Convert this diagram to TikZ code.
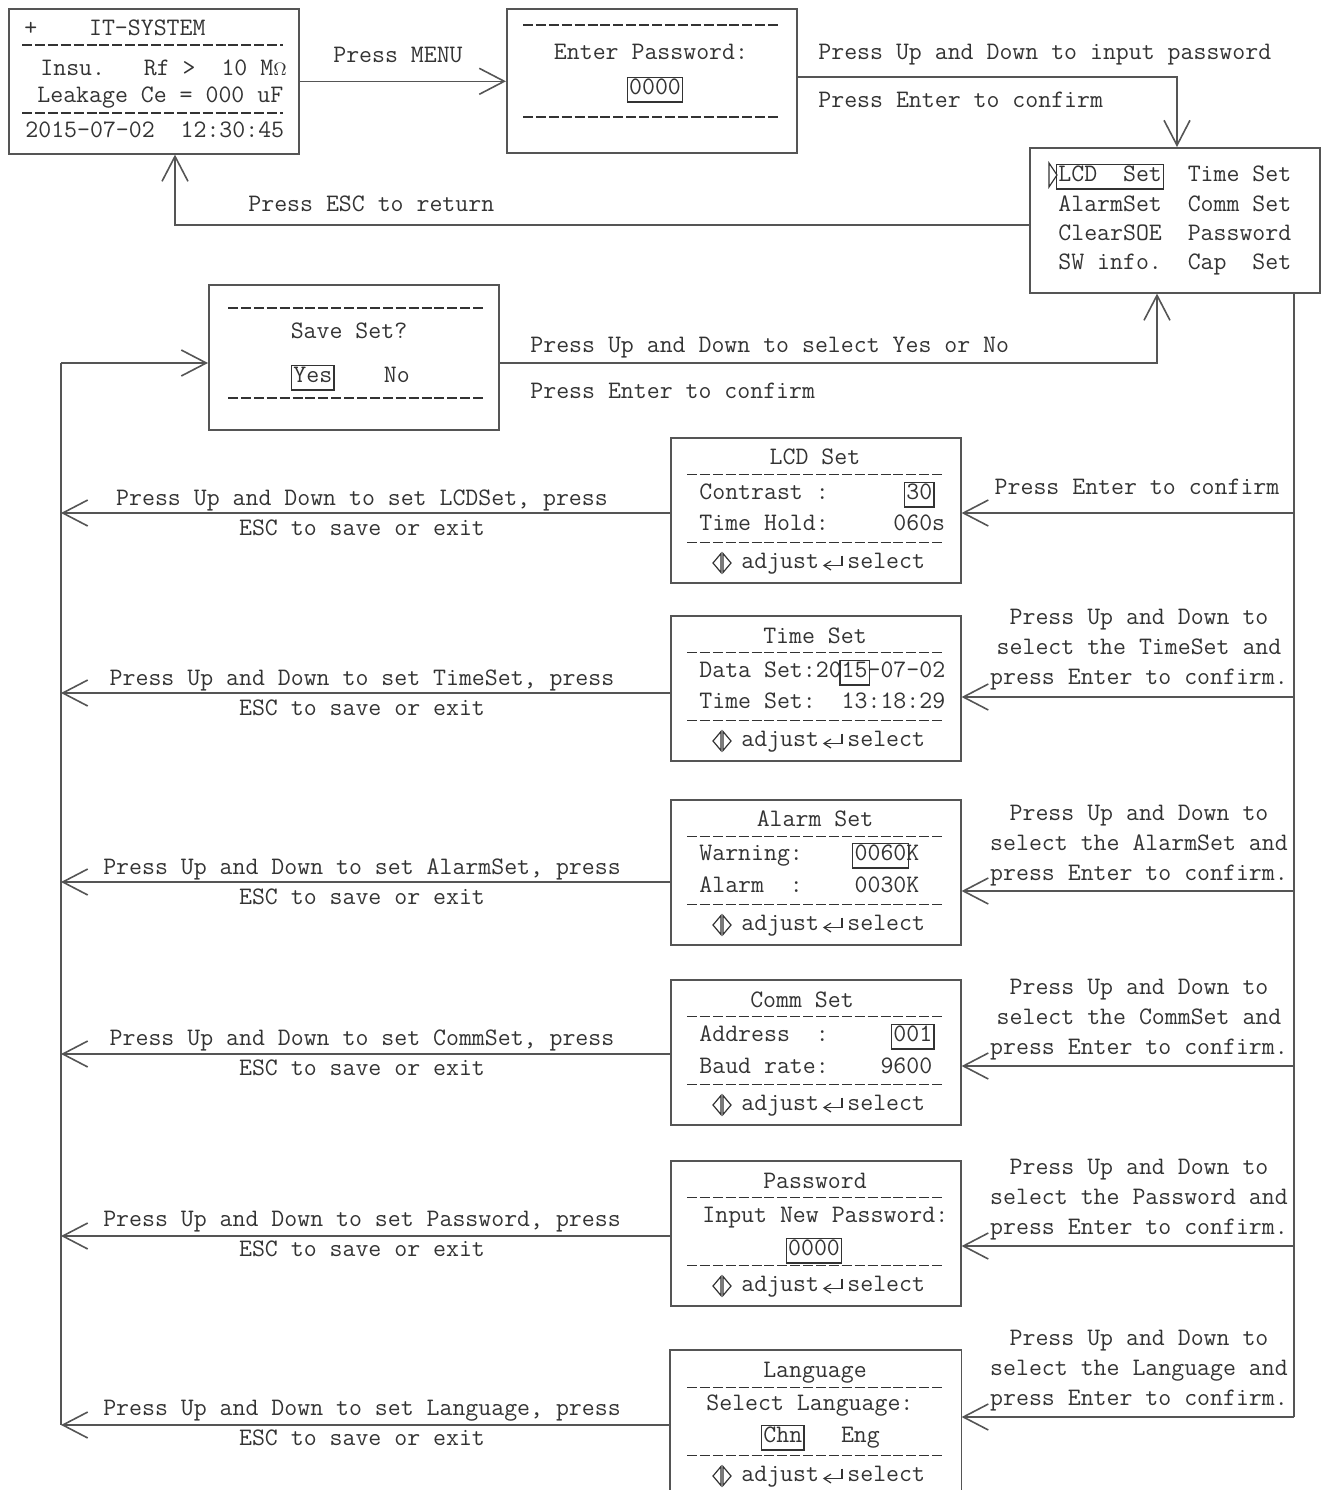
\documentclass[tikz,border=0pt]{standalone}
\usepackage{fontspec}
\usetikzlibrary{arrows.meta}
\definecolor{textc}{HTML}{333333}
\definecolor{linec}{HTML}{555555}
\newcommand\lcdf{\ttfamily\fontsize{12.56}{14}\selectfont}
\newcommand\bx[1]{{\setlength\fboxsep{0.6pt}\setlength\fboxrule{0.55pt}\kern-1.15pt\fbox{\vphantom{Ag}#1}\kern-1.15pt}}
\newcommand\ohm{{\fontsize{9}{9}\selectfont$\Omega$}}
\tikzset{
  txt/.style={font=\lcdf, text=textc, inner sep=0pt, text height=7.5pt, text depth=0pt},
  lt/.style={txt, anchor=west},
  scr/.style={draw=linec, line width=0.8pt, minimum width=145pt, inner sep=0pt, anchor=north west},
  dsh/.style={draw=textc, line width=0.6pt, dash pattern=on 5pt off 1.45pt},
  conn/.style={draw=linec, line width=0.8pt},
  arr/.style={conn, -{Straight Barb[length=12.5pt, width=13pt]}},
  sym/.style={draw=textc, line width=0.6pt},
  footer/.pic={
    \draw[sym] (43,2.5) -- (51,-7) -- (51,12) -- cycle;
    \draw[sym] (61,2.5) -- (53,-7) -- (53,12) -- cycle;
    \node[lt] (-a) at (71,0) {adjust};
    \draw[sym] (172,-5) -- (172,5) -- (154,5);
    \draw[sym] (161,0.5) -- (154,5) -- (161,9.5);
    \node[lt] (-s) at (177,0) {select};
  }
}
\begin{document}
\begin{tikzpicture}[x=0.5pt,y=-0.5pt]
\useasboundingbox (0,0) rectangle (1325,1490);

% ---------- top boxes ----------
\node[scr, minimum height=72.5pt] (main) at (8,8) {};
\draw[dsh] (22,45) -- (283,45);
\draw[dsh] (22,113) -- (283,113);
\node[lt] (m1) at (24,28) {+\ \ \ \ IT-SYSTEM};
\node[lt] (m2) at (40,68) {Insu.\ \ \ Rf\ >\ \ 10\ M\ohm};
\node[lt] (m3) at (37,95) {Leakage\ Ce\ =\ 000\ uF};
\node[lt] (m4) at (25,130) {2015-07-02\ \ 12:30:45};

\node[scr, minimum height=72pt] (pwd) at (506,8) {};
\draw[dsh] (523,25) -- (779,25);
\draw[dsh] (523,117) -- (779,117);
\node[txt] (p1) at (651,52) {Enter Password:};
\node[txt] (p2) at (655,87) {\bx{0000}};

\node[scr, minimum height=72.5pt] (menu) at (1029,147) {};
\draw[sym] (1049,163) -- (1057,175) -- (1049,187) -- cycle;
\node[lt] (mn1) at (1058,174) {\bx{LCD\ \ Set}\ \ Time\ Set};
\node[lt] (mn2) at (1058,204) {AlarmSet\ \ Comm\ Set};
\node[lt] (mn3) at (1058,233) {ClearSOE\ \ Password};
\node[lt] (mn4) at (1058,262) {SW\ info.\ \ Cap\ \ Set};

\node[scr, minimum height=72.5pt] (save) at (208,284) {};
\draw[dsh] (228,308) -- (485,308);
\draw[dsh] (228,398) -- (485,398);
\node[txt] (s1) at (349,331) {Save Set?};
\node[lt] (s2) at (293,375) {\bx{Yes}\ \ \ \ No};

% ---------- top connectors ----------
\draw[arr] (main.east) -- (main.east -| pwd.west);
\node[txt] (lmenu) at (398,55) {Press MENU};

\coordinate (c1) at (1177,77);
\draw[arr] (pwd.east |- c1) -- (c1) -- (c1 |- menu.north);
\node[lt] (lp1) at (818,52) {Press Up and Down to input password};
\node[lt] (lp2) at (818,100) {Press Enter to confirm};

\coordinate (c2) at (175,225);
\draw[arr] (menu.west |- c2) -- (c2) -- (c2 |- main.south);
\node[lt] (lesc) at (248,204) {Press ESC to return};

\coordinate (c3) at (1157,363);
\draw[arr] (save.east |- c3) -- (c3) -- (c3 |- menu.south);
\node[lt] (ls1) at (530,345) {Press Up and Down to select Yes or No};
\node[lt] (ls2) at (530,391) {Press Enter to confirm};

% ---------- setting screens ----------
\foreach \n/\t in {lcd/437, time/615, alarm/799, comm/979, pass/1160} {
  \node[scr, minimum height=72.5pt] (\n) at (670,\t) {};
}
\node[scr, draw=none, minimum height=70pt] (lang) at (670,1350) {};
\draw[conn] (lang.south west) -- (lang.north west) -- (lang.north east) -- (lang.south east);

\foreach \t in {437,615,799,979,1160,1350} {
  \draw[dsh] (687,\t+37.7) -- (944,\t+37.7);
  \draw[dsh] (687,\t+105.3) -- (944,\t+105.3);
  \pic (ft\t) at (670,\t+123.5) {footer};
}

\node[txt] (lcdT) at (815,457) {LCD Set};
\node[lt] (lcd1) at (699,492) {Contrast\ :\ \ \ \ \ \ \bx{30}};
\node[lt] (lcd2) at (699,523) {Time\ Hold:\ \ \ \ \ 060s};

\node[txt] (timeT) at (815,636) {Time Set};
\node[lt] (time1) at (699,670) {Data\ Set:20\bx{15}-07-02};
\node[lt] (time2) at (699,701) {Time\ Set:\ \ 13:18:29};

\node[txt] (alarmT) at (815,819) {Alarm Set};
\node[lt] (alarm1) at (699,853) {Warning:\ \ \ \ \bx{0060}K};
\node[lt] (alarm2) at (699,885) {Alarm\ \ :\ \ \ \ 0030K};

\node[txt] (commT) at (802,1000) {Comm Set};
\node[lt] (comm1) at (699,1034) {Address\ \ :\ \ \ \ \ \bx{001}};
\node[lt] (comm2) at (699,1066) {Baud\ rate:\ \ \ \ 9600};

\node[txt] (passT) at (815,1181) {Password};
\node[lt] (pass1) at (702,1215) {Input\ New\ Password:};
\node[txt] (pass2) at (814,1248) {\bx{0000}};

\node[txt] (langT) at (815,1370) {Language};
\node[lt] (lang1) at (706,1403) {Select\ Language:};
\node[lt] (lang2) at (763,1435) {\bx{Chn}\ \ \ Eng};

% ---------- buses ----------
\coordinate (lb) at (61,363);
\coordinate (lbe) at (61,1425);
\draw[arr] (lb) -- (lb -| save.west);
\draw[conn] (lb) -- (lbe);
\coordinate (rbe) at (1294,1417);
\draw[conn] (menu.south -| rbe) -- (rbe);

% left arrows (to save)
\foreach \n/\y in {lcd/513, time/693, alarm/882, comm/1054, pass/1236, lang/1425} {
  \coordinate (L\n) at (61,\y);
  \draw[arr] (\n.west |- L\n) -- (L\n);
}
% right arrows (from menu)
\foreach \n/\y in {lcd/513, time/697, alarm/891, comm/1066, pass/1246, lang/1417} {
  \coordinate (R\n) at (1294,\y);
  \draw[arr] (R\n) -- (R\n -| \n.east);
}

% ---------- left labels ----------
\foreach \n/\w/\y in {lcd/LCDSet/498, time/TimeSet/678, alarm/AlarmSet/867, comm/CommSet/1038, pass/Password/1219, lang/Language/1408} {
  \node[txt] (la\n) at (362,\y) {Press Up and Down to set \w, press};
  \node[txt] (lb\n) at (362,\y+30) {ESC to save or exit};
}

% ---------- right labels ----------
\node[txt] (rlcd) at (1137,487) {Press Enter to confirm};
\foreach \n/\w/\y in {time/TimeSet/617, alarm/AlarmSet/813, comm/CommSet/987, pass/Password/1167, lang/Language/1338} {
  \node[txt] (ra\n) at (1139,\y) {Press Up and Down to};
  \node[txt] (rb\n) at (1139,\y+30) {select the \w\ and};
  \node[txt] (rc\n) at (1139,\y+60) {press Enter to confirm.};
}
\end{tikzpicture}
\end{document}
